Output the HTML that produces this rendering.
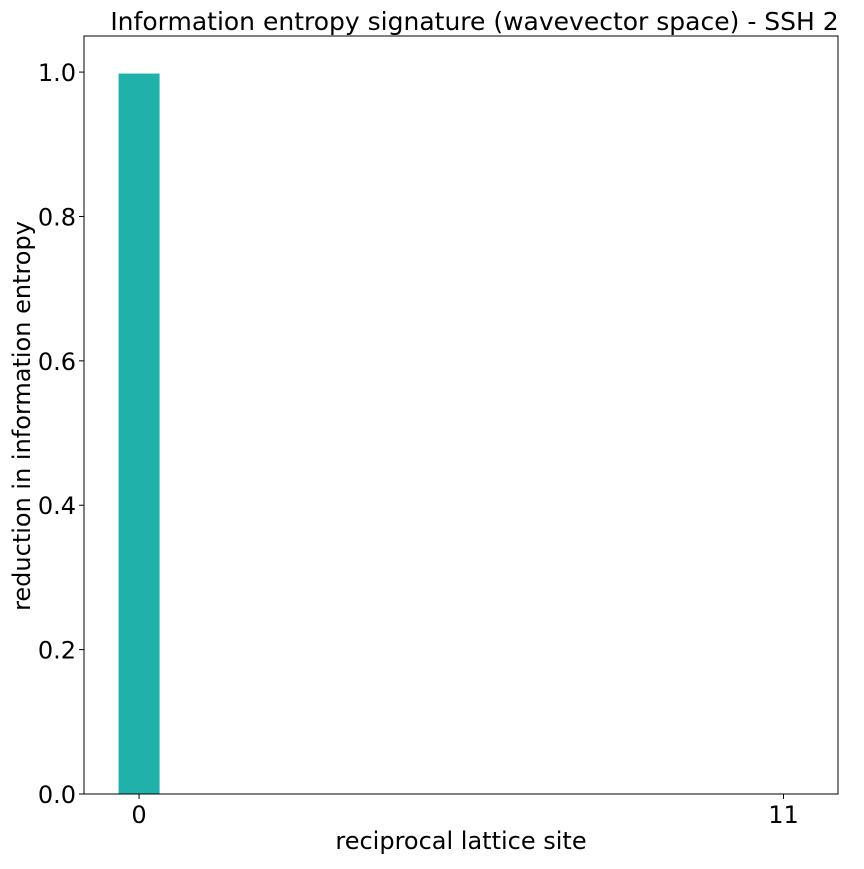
<!DOCTYPE html>
<html><head><meta charset="utf-8"><style>
body{margin:0;background:#fff;}
text{font-family:"DejaVu Sans","Liberation Sans",sans-serif;fill:#000;}
</style></head><body>
<svg id="chart" width="864" height="864" xmlns="http://www.w3.org/2000/svg">
<rect width="864" height="864" fill="#fff"/>
<text x="474.5" y="30" font-size="25" text-anchor="middle">Information entropy signature (wavevector space) - SSH 2</text>
<g id="bars"></g>
<g id="yticks"></g>
<g id="xticks"></g>
<rect x="84" y="36" width="754" height="758" fill="none" stroke="#000" stroke-width="1"/>
<text x="461" y="849" font-size="24" text-anchor="middle">reciprocal lattice site</text>
<text transform="translate(30,416) rotate(-90)" font-size="24" text-anchor="middle">reduction in information entropy</text>
</svg>
<script>
const categories=[0,1,2,3,4,5,6,7,8,9,10,11];
const values=[0.998,0,0,0,0,0,0,0,0,0,0,0];
const yTicks=[0,0.2,0.4,0.6,0.8,1.0];
const yTickLabels=["0.0","0.2","0.4","0.6","0.8","1.0"];
const xTicks=[0,11];
const xTickLabels=["0","11"];
const NS="http://www.w3.org/2000/svg";
const L=84,R=838,T=36,B=794,xmin=-0.94,xmax=11.93,ymin=0,ymax=1.05;
const xs=v=>L+(v-xmin)/(xmax-xmin)*(R-L);
const ys=v=>B-(v-ymin)/(ymax-ymin)*(B-T);
function mk(tag,attrs,parent){const e=document.createElementNS(NS,tag);for(const k in attrs)e.setAttribute(k,attrs[k]);parent.appendChild(e);return e;}
const bg=document.getElementById('bars');
categories.forEach((c,i)=>{
  const x0=xs(c-0.35),x1=xs(c+0.35),y0=ys(values[i]);
  const r=mk('rect',{x:x0,y:y0,width:x1-x0,height:ys(0)-y0,fill:'#20b2aa'},bg);
  
  
});
const yg=document.getElementById('yticks');
yTicks.forEach((v,i)=>{
  const y=ys(v);
  const l=mk('line',{x1:L-5,x2:L,y1:y,y2:y,stroke:'#000'},yg);
  
  
  const t=mk('text',{x:L-8,y:y+9,'font-size':24,'text-anchor':'end'},yg);
  t.textContent=yTickLabels[i];
  
  
});
const xg=document.getElementById('xticks');
xTicks.forEach((v,i)=>{
  const x=xs(v);
  const l=mk('line',{x1:x,x2:x,y1:B,y2:B+5,stroke:'#000'},xg);
  
  
  const t=mk('text',{x:x,y:B+29,'font-size':24,'text-anchor':'middle'},xg);
  t.textContent=xTickLabels[i];
  
  
});
</script>
</body></html>
